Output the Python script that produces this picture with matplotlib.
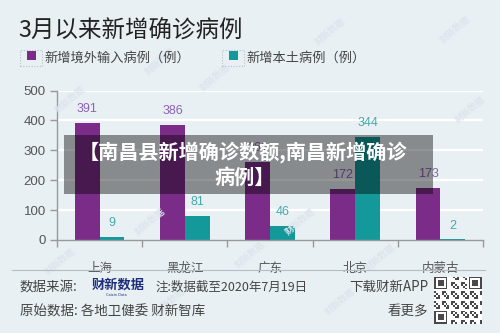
import matplotlib
matplotlib.use("Agg")
import matplotlib.pyplot as plt
import numpy as np
from matplotlib.patches import Rectangle

plt.rcParams['font.family'] = ['Noto Sans CJK SC', 'DejaVu Sans']

# ---- data ----
categories = ["上海", "黑龙江", "广东", "北京", "内蒙古"]
imported = [391, 386, 261, 172, 173]
local = [9, 81, 46, 344, 2]
yticks = [0, 100, 200, 300, 400, 500]
title = "3月以来新增确诊病例"
legend_labels = ["新增境外输入病例（例）", "新增本土病例（例）"]
banner_lines = ["【南昌县新增确诊数额,南昌新增确诊", "病例】"]

BG = "#e9f0f4"
PURPLE = "#7b2c88"
TEAL = "#14999a"
PURPLE_LBL = "#8d62b3"
TEAL_LBL = "#45a9ab"

W, H = 500, 333
fig = plt.figure(figsize=(5, 3.33), dpi=100, facecolor=BG)

def fx(px):
    return px / W

def fy(py):
    return 1 - py / H

# ---- watermarks (behind everything) ----
wm = [(330, 32), (455, 30), (160, 62), (215, 78), (70, 100), (470, 110), (150, 222),
      (300, 222), (60, 262), (250, 255), (380, 258), (170, 302), (340, 302)]
for px, py in wm:
    fig.text(fx(px), fy(py), "财新数据", fontsize=6.5, color="#dce5ec", rotation=40,
             ha="center", va="center", fontweight="bold", zorder=0)

# ---- axes ----
ax = fig.add_axes([fx(57), fy(240), fx(483) - fx(57), fy(90.5) - fy(240)])
ax.set_facecolor("none")
x = np.arange(len(categories))
w = 0.29
ax.bar(x - w / 2, imported, w, color=PURPLE, zorder=3)
ax.bar(x + w / 2, local, w, color=TEAL, zorder=3)
ax.set_xlim(-0.5, len(categories) - 0.5)
ax.set_ylim(0, 500)
ax.set_yticks(yticks)
ax.set_yticklabels([str(v) for v in yticks], fontsize=9.5, color="#555555",
                   family=['Liberation Sans', 'DejaVu Sans'])
for v in yticks[1:]:
    ax.axhline(v, color="white", lw=1.6, zorder=1)
ax.set_xticks(x)
ax.set_xticklabels(categories, fontsize=9, color="#555555")
ax.tick_params(axis='x', length=0, pad=16)
ax.set_xticks(np.arange(-0.5, len(categories), 1.0), minor=True)
ax.tick_params(axis='x', which='minor', length=5, color="#999999", width=1)
ax.tick_params(axis='y', length=5, color="#999999", width=1, pad=3)
for s in ["top", "right"]:
    ax.spines[s].set_visible(False)
for s in ["left", "bottom"]:
    ax.spines[s].set_color("#999999")
    ax.spines[s].set_linewidth(1)
    ax.spines[s].set_zorder(4)

for xi, v in zip(x, imported):
    ax.annotate(str(v), (xi - w / 2, v), xytext=(0, 10), textcoords="offset points",
                ha="center", va="center", fontsize=9, color=PURPLE_LBL,
                family=['Liberation Sans', 'DejaVu Sans'], zorder=5)
for xi, v in zip(x, local):
    ax.annotate(str(v), (xi + w / 2, v), xytext=(0, 10), textcoords="offset points",
                ha="center", va="center", fontsize=9, color=TEAL_LBL,
                family=['Liberation Sans', 'DejaVu Sans'], zorder=5)

# ---- title & legend ----
fig.text(fx(18), fy(30), title, fontsize=16.9, color="#222222", va="center", ha="left")

def legend_item(x0, color, label):
    box = Rectangle((fx(x0 - 7), fy(66)), fx(22), fy(50) - fy(66), transform=fig.transFigure,
                    fill=False, ec="#b8c0c8", lw=0.8, ls=(0, (1, 1.5)))
    fig.add_artist(box)
    sq = Rectangle((fx(x0), fy(60)), fx(9), fy(51) - fy(60), transform=fig.transFigure,
                   fc=color, ec="none")
    fig.add_artist(sq)
    fig.text(fx(x0 + 17), fy(58), label, fontsize=9.5, color="#444444", va="center", ha="left")

legend_item(27, PURPLE, legend_labels[0])
legend_item(229, TEAL, legend_labels[1])

# ---- footer ----
fig.add_artist(plt.Line2D([fx(12), fx(485)], [fy(270), fy(270)], transform=fig.transFigure,
                          color="#b4bcc4", lw=0.8))
FOOT = "#444444"
fig.text(fx(20), fy(287), "数据来源:", fontsize=9.7, color=FOOT, va="center")
fig.text(fx(92), fy(285), "财新数据", fontsize=9.5, color="#1d2d7c", va="center",
         fontweight="bold")
fig.text(fx(116), fy(294.5), "Caixin Data", fontsize=2.5, color="#1d2d7c", va="center",
         ha="center", family=['DejaVu Sans'])
fig.text(fx(155), fy(287), "注:数据截至2020年7月19日", fontsize=9, color=FOOT, va="center")
fig.text(fx(428), fy(287), "下载财新APP", fontsize=9.7, color=FOOT, va="center", ha="right")
fig.text(fx(20), fy(312), "原始数据: 各地卫健委 财新智库", fontsize=9.7, color=FOOT, va="center")
fig.text(fx(428), fy(312), "看更多", fontsize=9.7, color=FOOT, va="center", ha="right")

# QR-like code (decorative)
n = 25
qr = np.zeros((n, n))
ii, jj = np.meshgrid(np.arange(n), np.arange(n), indexing="ij")
qr[((ii * 7 + jj * 13 + ii * jj) % 5) < 2] = 1
def finder(r, c):
    qr[r:r + 7, c:c + 7] = 1
    qr[r + 1:r + 6, c + 1:c + 6] = 0
    qr[r + 2:r + 5, c + 2:c + 5] = 1
for r, c in [(0, 0), (0, n - 7), (n - 7, 0)]:
    qr[max(r - 1, 0):r + 8, max(c - 1, 0):c + 8] = 0
    finder(r, c)
qax = fig.add_axes([fx(434), fy(325), fx(48), fy(276) - fy(325)])
qax.imshow(qr, cmap="gray_r", interpolation="nearest", vmin=0, vmax=1.4)
qax.axis("off")

# ---- overlay banner ----
banner = Rectangle((fx(64), fy(194)), fx(433) - fx(64), fy(135) - fy(194),
                   transform=fig.transFigure, fc="black", alpha=0.42, ec="none", zorder=10)
fig.add_artist(banner)
fig.text(fx(243), fy(152), banner_lines[0], fontsize=14.5, color="white", fontweight="bold",
         ha="center", va="center", zorder=11)
fig.text(fx(245), fy(177), banner_lines[1], fontsize=14.5, color="white", fontweight="bold",
         ha="center", va="center", zorder=11)

fig.savefig("out.png", dpi=100, facecolor=BG)
